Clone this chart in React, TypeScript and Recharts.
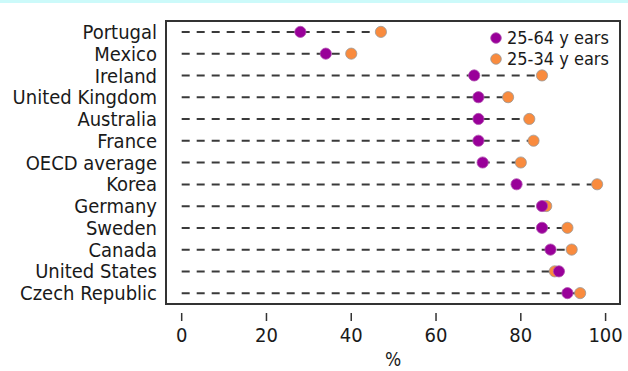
import React from "react";
import {
  ComposedChart, Bar, Line, XAxis, YAxis, Legend, ReferenceArea,
} from "recharts";

const countries = [
  "Portugal", "Mexico", "Ireland", "United Kingdom", "Australia", "France",
  "OECD average", "Korea", "Germany", "Sweden", "Canada", "United States",
  "Czech Republic",
];
const ages2564 = [28, 34, 69, 70, 70, 70, 71, 79, 85, 85, 87, 89, 91];
const ages2534 = [47, 40, 85, 77, 82, 83, 80, 98, 86, 91, 92, 88, 94];
const xTicks = [0, 20, 40, 60, 80, 100];

const PURPLE = "#990099";
const ORANGE = "#F98B3E";
const FONT = "'DejaVu Sans Condensed', 'DejaVu Sans', sans-serif";

const data = countries.map((name, i) => ({
  name,
  a: ages2564[i],
  b: ages2534[i],
  reach: Math.max(ages2564[i], ages2534[i]),
}));

// dashed leader line from 0 to the further of the two dots
function DashShape(props: any) {
  const { x, y, width, height } = props;
  const cy = y + height / 2;
  return (
    <line x1={x} x2={x + width} y1={cy} y2={cy} stroke="#3a3a3a" strokeWidth={2} strokeDasharray="8 7" />
  );
}

function makeDot(fill: string, stroke: string) {
  return (p: any) => (
    <circle key={p.index} cx={p.cx} cy={p.cy} r={5.6} fill={fill} stroke={stroke} strokeWidth={0.8} />
  );
}

function LegendBox() {
  const rows = [
    { label: "25-64 y ears", fill: PURPLE, stroke: "#b050b0" },
    { label: "25-34 y ears", fill: ORANGE, stroke: "#999" },
  ];
  return (
    <div style={{ fontFamily: FONT, fontSize: 18, lineHeight: "21px", color: "#1a1a1a" }}>
      {rows.map((r) => (
        <div key={r.label} style={{ display: "flex", alignItems: "center", height: 21 }}>
          <svg width={14} height={14} style={{ marginRight: 4 }}>
            <circle cx={7} cy={7} r={5.3} fill={r.fill} stroke={r.stroke} strokeWidth={0.8} />
          </svg>
          <span>{r.label}</span>
        </div>
      ))}
    </div>
  );
}

export default function App() {
  return (
    <div style={{ position: "absolute", left: 0, top: 0, width: 628, height: 371, background: "#fff", fontFamily: FONT }}>
      <div style={{ position: "absolute", left: 0, top: 0, width: 628, height: 3, background: "#ccfafa" }} />
      <div style={{ position: "absolute", left: 0, top: 0 }}>
        <ComposedChart
          width={628}
          height={371}
          data={data}
          layout="vertical"
          margin={{ top: 0, right: 8, bottom: 0, left: 0 }}
          barCategoryGap={0}
        >
          <XAxis
            type="number"
            domain={[-3.7, 103.4]}
            ticks={xTicks}
            allowDataOverflow
            height={58}
            axisLine={false}
            tickSize={8}
            tickMargin={7}
            tickLine={{ stroke: "#333", strokeWidth: 1.5 }}
            tick={{ fontSize: 20, fill: "#1a1a1a", fontFamily: FONT }}
            label={{ value: "%", position: "insideBottom", offset: 5, fontSize: 19, fill: "#1a1a1a", fontFamily: FONT }}
          />
          <XAxis
            xAxisId="top"
            orientation="top"
            type="number"
            domain={[-3.7, 103.4]}
            ticks={xTicks}
            allowDataOverflow
            height={10}
            axisLine={false}
            tickSize={8}
            tickLine={{ stroke: "#333", strokeWidth: 1.5 }}
            tick={false}
          />
          <YAxis
            type="category"
            dataKey="name"
            width={166}
            axisLine={false}
            tickLine={false}
            tickSize={0}
            tickMargin={9}
            padding={{ top: 11, bottom: 9 }}
            interval={0}
            tick={{ fontSize: 20, fill: "#1a1a1a", fontFamily: FONT }}
          />
          <ReferenceArea x1={-3.7} x2={103.4} fill="none" stroke="#333" strokeWidth={2} ifOverflow="visible" />
          <Bar dataKey="reach" shape={DashShape} isAnimationActive={false} />
          <Line dataKey="b" stroke="none" dot={makeDot(ORANGE, "#999")} activeDot={false} isAnimationActive={false} />
          <Line dataKey="a" stroke="none" dot={makeDot(PURPLE, "#b050b0")} activeDot={false} isAnimationActive={false} />
          <Legend
            layout="vertical"
            align="center"
            verticalAlign="middle"
            wrapperStyle={{ left: 489, top: 27, width: 130 }}
            content={() => <LegendBox />}
          />
        </ComposedChart>
      </div>
    </div>
  );
}
